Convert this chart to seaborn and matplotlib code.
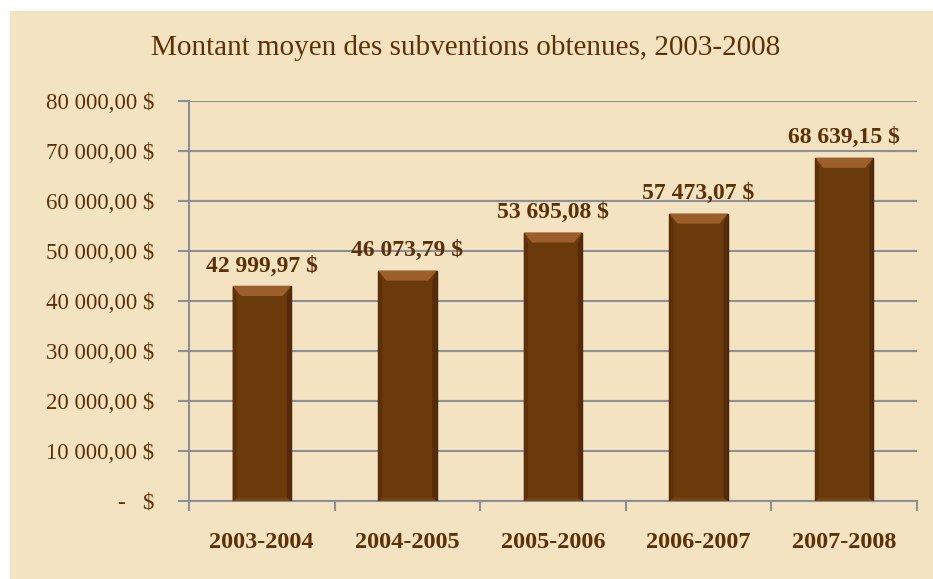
import matplotlib
matplotlib.use("Agg")
import matplotlib.pyplot as plt
import seaborn as sns
import pandas as pd
import numpy as np
from matplotlib.patches import Rectangle, Polygon

categories = ["2003-2004", "2004-2005", "2005-2006", "2006-2007", "2007-2008"]
values = [42999.97, 46073.79, 53695.08, 57473.07, 68639.15]
value_labels = ["42 999,97 $", "46 073,79 $", "53 695,08 $", "57 473,07 $", "68 639,15 $"]
y_ticks = [0, 10000, 20000, 30000, 40000, 50000, 60000, 70000, 80000]
y_tick_labels = ["-   $", "10 000,00 $", "20 000,00 $", "30 000,00 $", "40 000,00 $",
                 "50 000,00 $", "60 000,00 $", "70 000,00 $", "80 000,00 $"]
title = "Montant moyen des subventions obtenues, 2003-2008"

BROWN = "#6B3A0A"
TEXT = "#5E3006"
GRID = "#8E8E98"
BG = "#F3E3C0"

sns.set_theme(style="white")
plt.rcParams["font.family"] = ["Liberation Serif", "DejaVu Serif"]

df = pd.DataFrame({"period": categories, "amount": values})

fig = plt.figure(figsize=(9.33, 5.79), dpi=100, facecolor="white")
fig.patches.append(Rectangle((10 / 933, 0), 1 - 10 / 933, 1 - 11 / 579,
                             transform=fig.transFigure, facecolor=BG,
                             edgecolor="none", zorder=-10))
ax = fig.add_axes([189 / 933, 78 / 579, 728 / 933, 400 / 579])
ax.set_facecolor("none")

sns.barplot(data=df, x="period", y="amount", color=BROWN, width=0.4,
            saturation=1, ax=ax, zorder=3, edgecolor="#4A2505", linewidth=1.0)

# bevel highlights derived from the drawn bars
for p in ax.patches:
    x0, y0 = p.get_x(), p.get_y()
    w, h = p.get_width(), p.get_height()
    dx = w * 0.14
    dy = 2000
    top = Polygon([(x0, y0 + h), (x0 + w, y0 + h), (x0 + w - dx, y0 + h - dy), (x0 + dx, y0 + h - dy)],
                  closed=True, facecolor="#9C5E2A", edgecolor="none", zorder=4)
    ax.add_patch(top)
    left = Polygon([(x0, y0), (x0, y0 + h), (x0 + dx * 0.5, y0 + h - dy), (x0 + dx * 0.5, y0 + dy * 0.3)],
                   closed=True, facecolor="#5C3008", edgecolor="none", zorder=4)
    ax.add_patch(left)
    right = Polygon([(x0 + w, y0), (x0 + w, y0 + h), (x0 + w - dx * 0.5, y0 + h - dy), (x0 + w - dx * 0.5, y0 + dy * 0.3)],
                    closed=True, facecolor="#55290A", edgecolor="none", zorder=4)
    ax.add_patch(right)
    bottom = Polygon([(x0, y0), (x0 + w, y0), (x0 + w - dx * 0.5, y0 + dy * 0.3), (x0 + dx * 0.5, y0 + dy * 0.3)],
                     closed=True, facecolor="#7A4515", edgecolor="none", zorder=4)
    ax.add_patch(bottom)
    shadow = Rectangle((x0 + w * 0.05, y0 - 600), w * 1.0, 600, facecolor="#C9B48E",
                       edgecolor="none", alpha=0.5, zorder=2)
    ax.add_patch(shadow)

for i, (v, lab) in enumerate(zip(values, value_labels)):
    ax.text(i, v + 1900, lab, ha="center", va="bottom", fontsize=17,
            fontweight="bold", color=TEXT, zorder=5)

ax.set_ylim(0, 80000)
ax.set_xlim(-0.5, len(categories) - 0.5)
ax.set_yticks(y_ticks)
ax.set_yticklabels(y_tick_labels, fontsize=16.5, color=TEXT)
ax.set_xticks(range(len(categories)))
ax.set_xticklabels(categories, fontsize=17.5, fontweight="bold", color=TEXT)
ax.set_xticks(np.arange(-0.5, len(categories), 1.0), minor=True)
ax.tick_params(axis="x", which="major", length=0, pad=22)
ax.tick_params(axis="x", which="minor", length=7, width=1.5, color=GRID, direction="out", bottom=True)
ax.tick_params(axis="y", which="major", length=8, width=1.5, color=GRID, direction="out", left=True, pad=17)
ax.set_xlabel("")
ax.set_ylabel("")

ax.yaxis.grid(True, color=GRID, linewidth=1.5, zorder=0)
ax.xaxis.grid(False)
ax.set_axisbelow(True)
for s in ["top", "right"]:
    ax.spines[s].set_visible(False)
for s in ["left", "bottom"]:
    ax.spines[s].set_color(GRID)
    ax.spines[s].set_linewidth(1.5)

fig.text(466 / 933, 1 - 48 / 579, title, ha="center", va="center", fontsize=21,
         color=TEXT)

fig.savefig("out.png", dpi=100, facecolor=fig.get_facecolor())
